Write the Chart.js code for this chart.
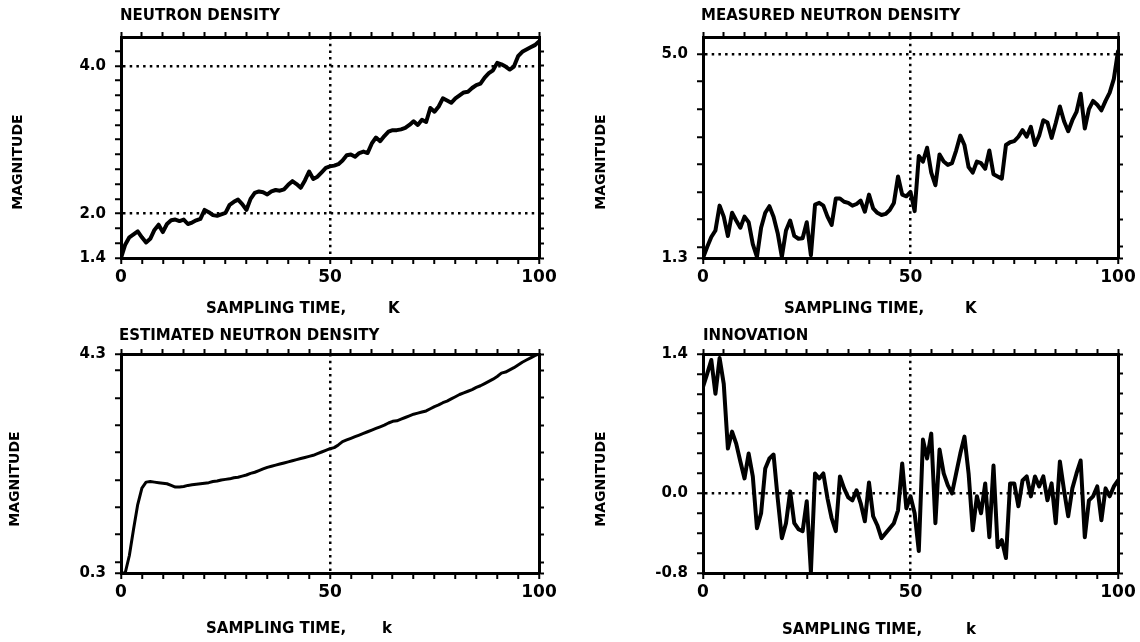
<!DOCTYPE html>
<html>
<head>
<meta charset="utf-8">
<title>Neutron density estimation</title>
<script src="https://cdn.jsdelivr.net/npm/chart.js@4.4.1/dist/chart.umd.min.js"></script>
<style>
  body { margin: 0; background: #fff; }
  #wrap { position: relative; width: 1140px; height: 642px; background: #fff; }
  canvas { position: absolute; }
</style>
</head>
<body>
<div id="wrap">
  <canvas id="neutron" width="570" height="321" style="left:0;top:0"></canvas>
  <canvas id="measured" width="570" height="321" style="left:570px;top:0"></canvas>
  <canvas id="estimated" width="570" height="321" style="left:0;top:321px"></canvas>
  <canvas id="innovation" width="570" height="321" style="left:570px;top:321px"></canvas>
</div>
<script>
// values, one per sampling time k = 0..100
const neutronDensity = [
  1.40, 1.58, 1.68, 1.72, 1.76, 1.68, 1.61, 1.66, 1.78, 1.85,
  1.75, 1.86, 1.91, 1.92, 1.90, 1.92, 1.86, 1.88, 1.91, 1.93,
  2.05, 2.02, 1.98, 1.97, 1.99, 2.01, 2.12, 2.16, 2.19, 2.13,
  2.05, 2.20, 2.28, 2.30, 2.29, 2.26, 2.30, 2.32, 2.31, 2.33,
  2.39, 2.44, 2.40, 2.35, 2.45, 2.57, 2.47, 2.50, 2.56, 2.62,
  2.64, 2.65, 2.67, 2.72, 2.79, 2.80, 2.77, 2.82, 2.84, 2.82,
  2.95, 3.03, 2.98, 3.05, 3.11, 3.13, 3.13, 3.14, 3.16, 3.20,
  3.25, 3.20, 3.27, 3.24, 3.43, 3.38, 3.45, 3.56, 3.53, 3.50,
  3.56, 3.60, 3.64, 3.65, 3.70, 3.74, 3.76, 3.84, 3.90, 3.94,
  4.04, 4.02, 3.99, 3.95, 3.99, 4.13, 4.19, 4.22, 4.25, 4.28,
  4.33
];
const measuredDensity = [
  1.30, 1.50, 1.68, 1.80, 2.25, 2.05, 1.70, 2.12, 1.98, 1.85,
  2.05, 1.95, 1.55, 1.32, 1.85, 2.12, 2.24, 2.05, 1.75, 1.32,
  1.80, 1.98, 1.70, 1.65, 1.66, 1.95, 1.35, 2.27, 2.30, 2.25,
  2.05, 1.90, 2.38, 2.38, 2.32, 2.30, 2.25, 2.28, 2.34, 2.14,
  2.45, 2.20, 2.12, 2.08, 2.10, 2.17, 2.30, 2.78, 2.45, 2.42,
  2.50, 2.15, 3.15, 3.05, 3.30, 2.85, 2.62, 3.18, 3.05, 2.99,
  3.02, 3.25, 3.52, 3.35, 2.95, 2.85, 3.05, 3.02, 2.92, 3.25,
  2.82, 2.78, 2.74, 3.35, 3.40, 3.42, 3.50, 3.62, 3.50, 3.68,
  3.35, 3.52, 3.80, 3.76, 3.48, 3.75, 4.05, 3.78, 3.60, 3.80,
  3.95, 4.28, 3.65, 4.00, 4.15, 4.08, 3.98, 4.15, 4.30, 4.55,
  5.05
];
const estimatedDensity = [
  0.30, 0.30, 0.62, 1.10, 1.55, 1.85, 1.96, 1.97, 1.96, 1.95,
  1.94, 1.93, 1.90, 1.87, 1.87, 1.88, 1.90, 1.91, 1.92, 1.93,
  1.94, 1.95, 1.97, 1.98, 2.00, 2.01, 2.02, 2.04, 2.05, 2.07,
  2.09, 2.12, 2.14, 2.17, 2.20, 2.23, 2.25, 2.27, 2.29, 2.31,
  2.33, 2.35, 2.37, 2.39, 2.41, 2.43, 2.45, 2.48, 2.51, 2.54,
  2.57, 2.59, 2.64, 2.70, 2.73, 2.76, 2.79, 2.82, 2.85, 2.88,
  2.91, 2.94, 2.97, 3.00, 3.04, 3.07, 3.08, 3.11, 3.14, 3.17,
  3.20, 3.22, 3.24, 3.26, 3.30, 3.34, 3.37, 3.41, 3.44, 3.48,
  3.52, 3.56, 3.59, 3.62, 3.65, 3.69, 3.72, 3.76, 3.80, 3.84,
  3.89, 3.95, 3.97, 4.01, 4.05, 4.10, 4.15, 4.19, 4.23, 4.27,
  4.30
];
const innovation = [
  1.07, 1.20, 1.34, 1.00, 1.36, 1.10, 0.45, 0.62, 0.50, 0.32,
  0.15, 0.40, 0.17, -0.35, -0.20, 0.25, 0.35, 0.39, -0.05, -0.45,
  -0.30, 0.02, -0.30, -0.36, -0.38, -0.08, -0.79, 0.20, 0.15, 0.20,
  -0.05, -0.25, -0.38, 0.17, 0.05, -0.04, -0.07, 0.03, -0.10, -0.28,
  0.11, -0.23, -0.32, -0.45, -0.40, -0.35, -0.30, -0.17, 0.30, -0.15,
  -0.03, -0.20, -0.58, 0.54, 0.35, 0.60, -0.30, 0.44, 0.20, 0.08,
  0.00, 0.20, 0.40, 0.57, 0.20, -0.37, -0.03, -0.20, 0.10, -0.44,
  0.28, -0.54, -0.47, -0.65, 0.10, 0.10, -0.13, 0.13, 0.17, -0.03,
  0.17, 0.07, 0.17, -0.07, 0.10, -0.30, 0.32, 0.03, -0.23, 0.05,
  0.20, 0.33, -0.44, -0.07, -0.03, 0.07, -0.27, 0.05, -0.03, 0.07,
  0.13
];

// labelled ticks
const timeTicks = [0, 50, 100];
const neutronTicks = [1.4, 2.0, 4.0];
const measuredTicks = [1.3, 5.0];
const estimatedTicks = [0.3, 4.3];
const innovationTicks = [-0.8, 0.0, 1.4];

Chart.defaults.font.family = "'DejaVu Sans', sans-serif";
Chart.defaults.font.weight = 'bold';
Chart.defaults.color = '#000';

function isLabel(list, v) {
  return list.some(l => Math.abs(l - v) < 1e-6);
}

// minor tick marks every `step`, plus the labelled ones
function makeTicks(min, max, step, labels) {
  let out = [];
  let n0 = Math.ceil(min / step - 1e-6), n1 = Math.floor(max / step + 1e-6);
  for (let n = n0; n <= n1; n++) out.push(Math.round(n * step * 100) / 100);
  labels.forEach(l => { if (!isLabel(out, l)) out.push(l); });
  return out.sort((a, b) => a - b).map(v => ({value: v}));
}

// dotted grid line only at labelled values inside the box
function dottedAt(labels, min, max) {
  return c => {
    let v = c.tick ? c.tick.value : NaN;
    return (isLabel(labels, v) && v > min + 1e-6 && v < max - 1e-6) ? '#000' : 'rgba(0,0,0,0)';
  };
}

const panelText = {
  id: 'panelText',
  afterDraw(chart, args, o) {
    const ctx = chart.ctx;
    ctx.save();
    ctx.fillStyle = '#000';
    ctx.textBaseline = 'middle';
    ctx.textAlign = 'left';
    ctx.font = "bold 15px 'DejaVu Sans'";
    ctx.fillText(o.title, o.titleX, o.titleY);
    ctx.fillText('SAMPLING TIME,', o.xlabX, o.xlabY);
    ctx.fillText(o.k, o.kX, o.xlabY);
    ctx.translate(o.magX, o.magY);
    ctx.rotate(-Math.PI / 2);
    ctx.textAlign = 'center';
    ctx.font = "bold 14px 'DejaVu Sans'";
    ctx.fillText('MAGNITUDE', 0, 0);
    ctx.restore();
  }
};

function makeChart(id, values, p) {
  const points = values.map((v, k) => ({x: k, y: v}));
  const m = p.margin;
  const xs = () => makeTicks(0, 100, 5, timeTicks);
  const ys = () => makeTicks(p.yMin, p.yMax, p.yStep, p.yLabels);
  const tickMark = {tickColor: '#000', tickBorderDash: [], tickLength: 6, tickWidth: 2};
  const dots = {color: '#000', width: 3, dash: [2.5, 4.2]};

  return new Chart(document.getElementById(id), {
    type: 'line',
    data: {
      datasets: [{
        data: points,
        borderColor: '#000',
        borderWidth: p.lineWidth,
        pointRadius: 0,
        tension: 0,
        borderJoinStyle: 'round',
        borderCapStyle: 'round'
      }]
    },
    options: {
      responsive: false,
      animation: false,
      devicePixelRatio: 1,
      layout: {padding: 0},
      plugins: {
        legend: {display: false},
        tooltip: {enabled: false},
        panelText: p.text
      },
      scales: {
        x: {
          type: 'linear', position: 'bottom', min: 0, max: 100,
          afterBuildTicks: s => { s.ticks = xs(); },
          afterFit: s => { s.height = m.bottom; },
          ticks: {autoSkip: false, maxRotation: 0, padding: 3, font: {size: 17},
                  callback: v => isLabel(timeTicks, v) ? String(v) : ''},
          grid: Object.assign({color: dottedAt(timeTicks, 0, 100), lineWidth: 2.5}, tickMark),
          border: dots
        },
        x2: {
          type: 'linear', position: 'top', min: 0, max: 100,
          afterBuildTicks: s => { s.ticks = xs(); },
          afterFit: s => { s.height = m.top; },
          ticks: {display: false},
          grid: Object.assign({drawOnChartArea: false}, tickMark, {tickLength: 5}),
          border: {color: '#000', width: 3}
        },
        y: {
          type: 'linear', position: 'left', min: p.yMin, max: p.yMax,
          afterBuildTicks: s => { s.ticks = ys(); },
          afterFit: s => { s.width = m.left; },
          ticks: {autoSkip: false, padding: 9, font: {size: 15},
                  callback: v => isLabel(p.yLabels, v) ? v.toFixed(1) : ''},
          grid: Object.assign({color: dottedAt(p.yLabels, p.yMin, p.yMax), lineWidth: 2.5}, tickMark),
          border: dots
        },
        y2: {
          type: 'linear', position: 'right', min: p.yMin, max: p.yMax,
          afterBuildTicks: s => { s.ticks = ys(); },
          afterFit: s => { s.width = m.right; },
          ticks: {display: false},
          grid: Object.assign({drawOnChartArea: false}, tickMark, {tickLength: 5}),
          border: {color: '#000', width: 3}
        }
      }
    },
    plugins: [panelText]
  });
}

makeChart('neutron', neutronDensity, {
  yMin: 1.4, yMax: 4.39, yStep: 0.2, yLabels: neutronTicks, lineWidth: 4,
  margin: {left: 121, right: 31, top: 37, bottom: 63},
  text: {title: 'NEUTRON DENSITY', titleX: 120, titleY: 16, magX: 18, magY: 162,
         xlabX: 206, xlabY: 309, k: 'K', kX: 388}
});

makeChart('measured', measuredDensity, {
  yMin: 1.3, yMax: 5.31, yStep: 0.5, yLabels: measuredTicks, lineWidth: 4,
  margin: {left: 133, right: 22, top: 37, bottom: 63},
  text: {title: 'MEASURED NEUTRON DENSITY', titleX: 131, titleY: 16, magX: 31, magY: 162,
         xlabX: 214, xlabY: 309, k: 'K', kX: 395}
});

makeChart('estimated', estimatedDensity, {
  yMin: 0.3, yMax: 4.3, yStep: 0.5, yLabels: estimatedTicks, lineWidth: 3,
  margin: {left: 121, right: 31, top: 33, bottom: 69},
  text: {title: 'ESTIMATED NEUTRON DENSITY', titleX: 119, titleY: 15, magX: 15, magY: 158,
         xlabX: 206, xlabY: 308, k: 'k', kX: 382}
});

makeChart('innovation', innovation, {
  yMin: -0.8, yMax: 1.4, yStep: 0.2, yLabels: innovationTicks, lineWidth: 4,
  margin: {left: 133, right: 22, top: 33, bottom: 69},
  text: {title: 'INNOVATION', titleX: 133, titleY: 15, magX: 31, magY: 158,
         xlabX: 212, xlabY: 309, k: 'k', kX: 396}
});
</script>
</body>
</html>
